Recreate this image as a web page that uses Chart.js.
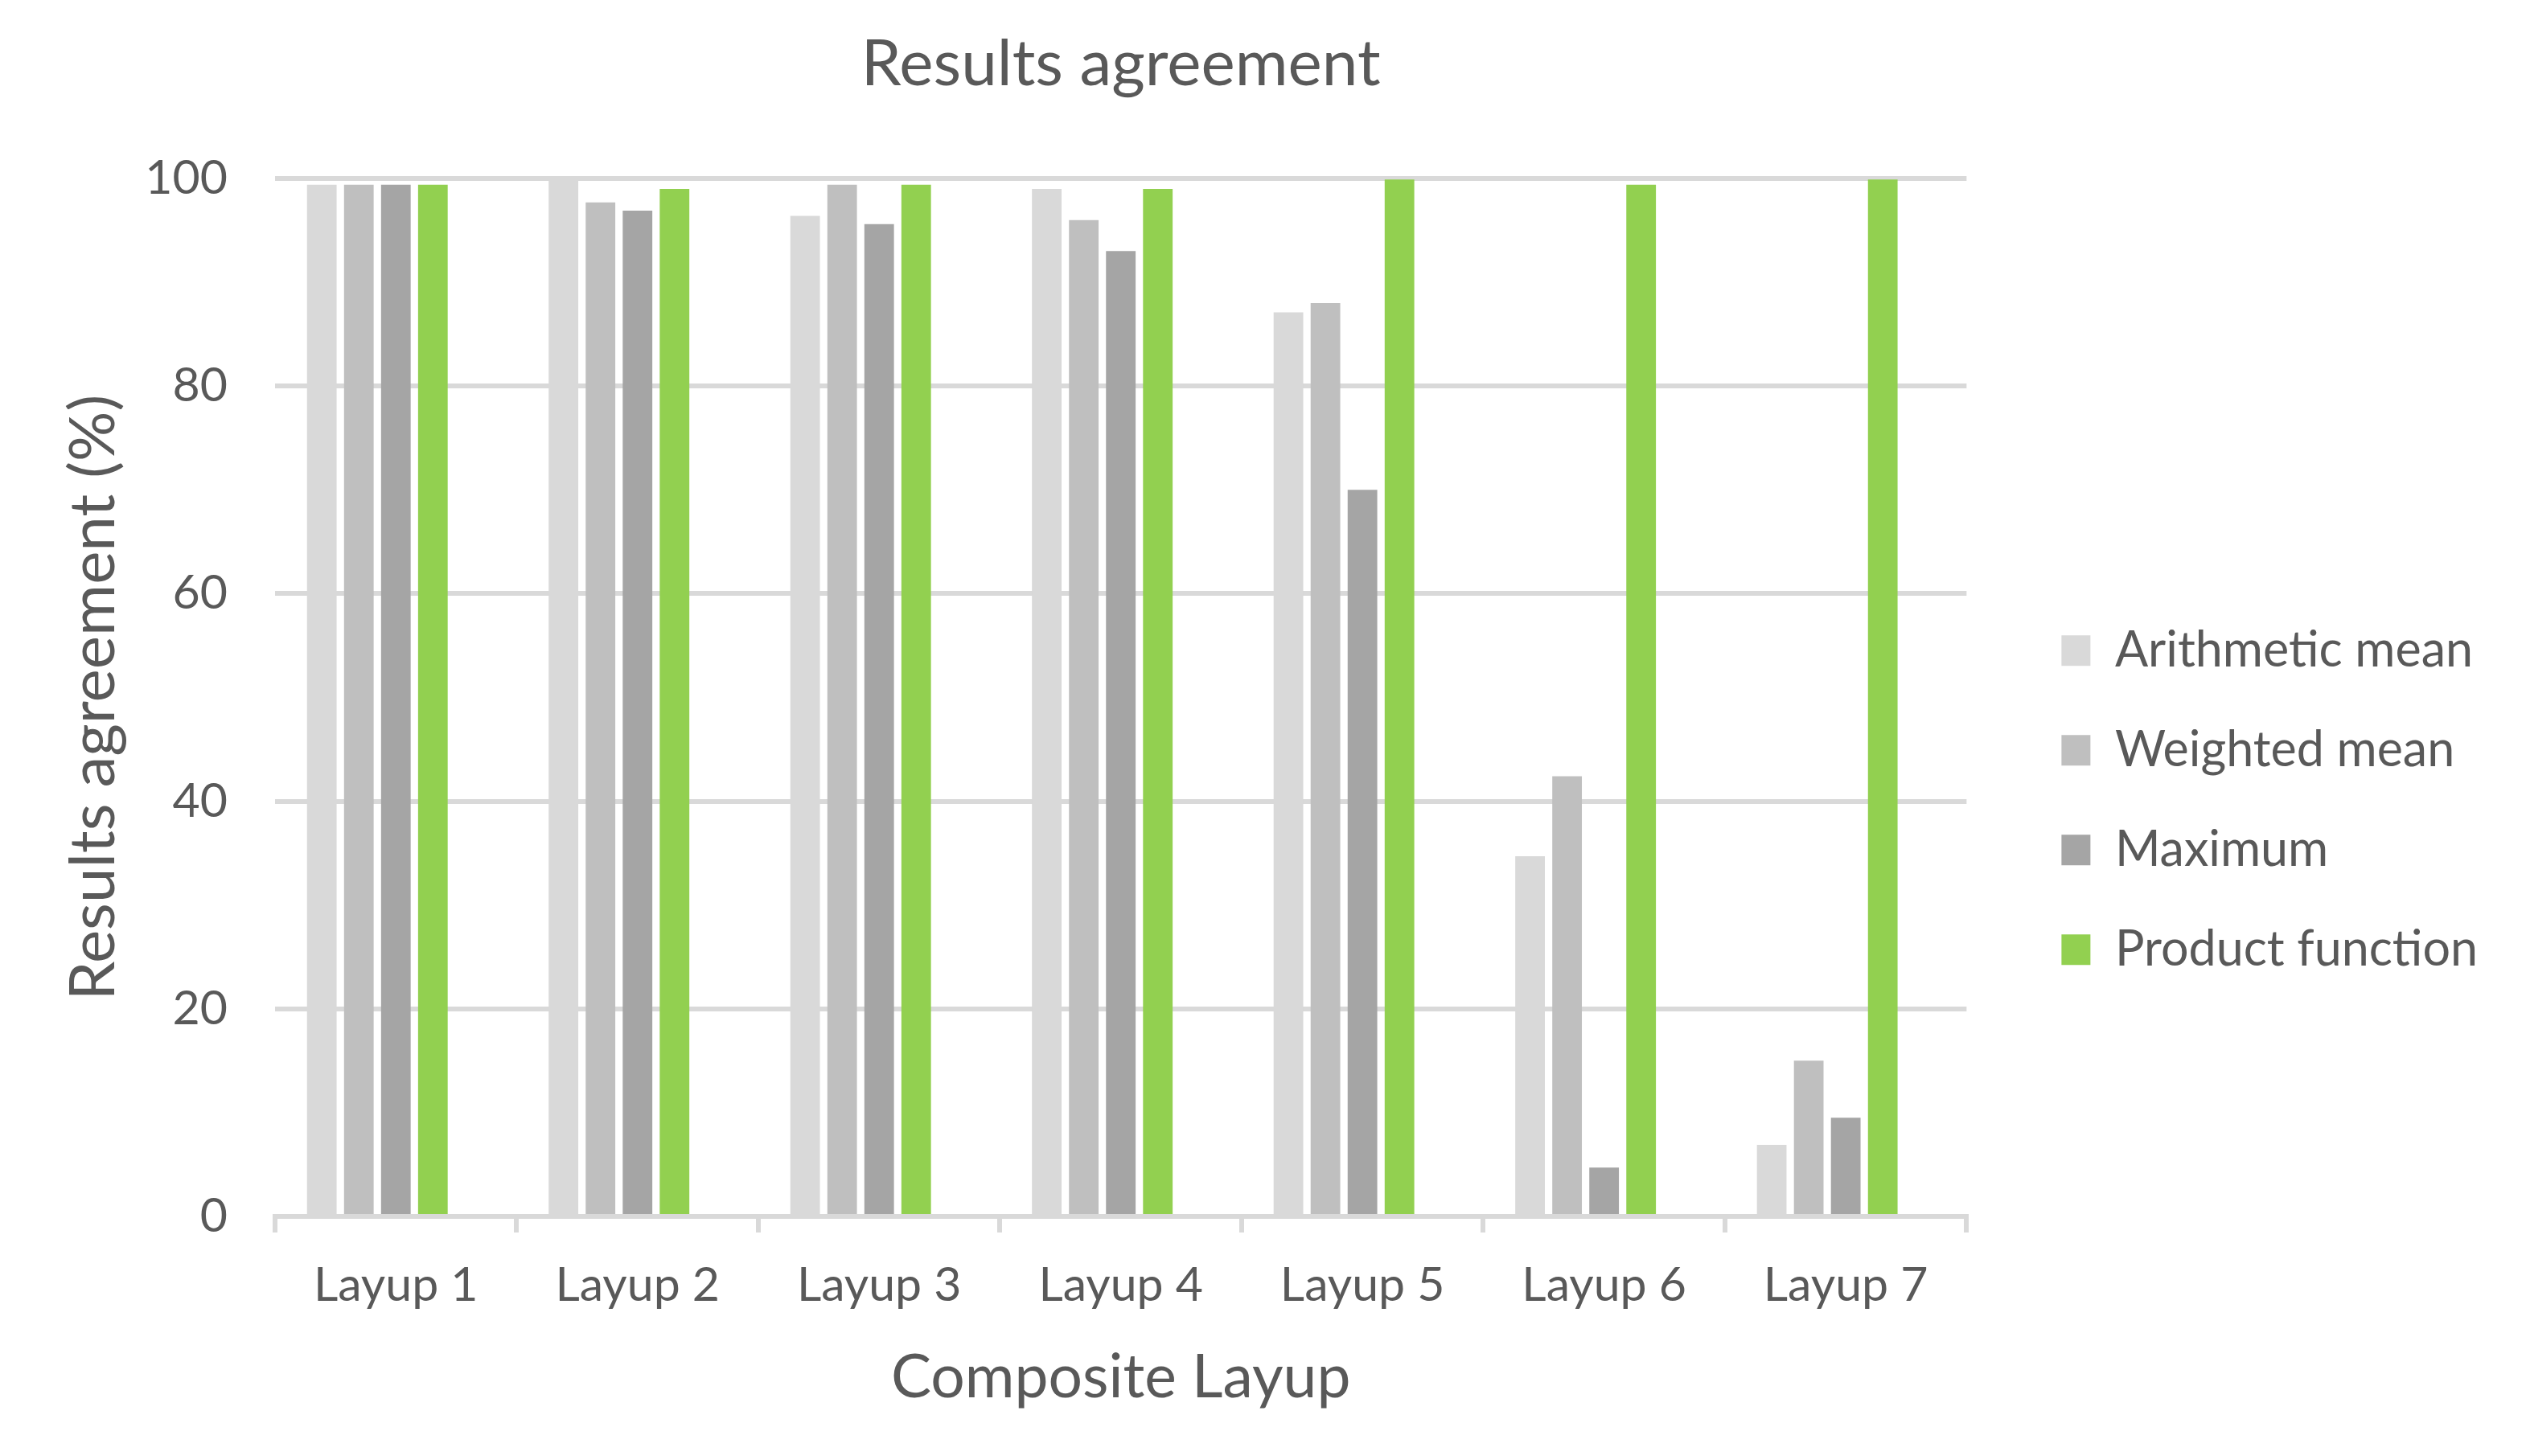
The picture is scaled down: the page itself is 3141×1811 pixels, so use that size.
<!DOCTYPE html>
<html>
<head>
<meta charset="utf-8">
<script src="https://cdn.jsdelivr.net/npm/chart.js@4"></script>
<style>
  html, body { margin: 0; padding: 0; background: #fff; }
</style>
</head>
<body>
<canvas id="chart" width="3141" height="1811"></canvas>
<script>
const layups = ['Layup 1', 'Layup 2', 'Layup 3', 'Layup 4', 'Layup 5', 'Layup 6', 'Layup 7'];
const arithmeticMean = [99.4, 100, 96.4, 99.0, 87.1, 34.7, 6.9];
const weightedMean = [99.4, 97.7, 99.4, 96.0, 88.0, 42.4, 15.0];
const maximum = [99.4, 96.9, 95.6, 93.0, 70.0, 4.7, 9.5];
const productFunction = [99.4, 99.0, 99.4, 99.0, 99.9, 99.4, 99.9];
// Excel leaves a fifth, empty slot in each group
const emptySlot = [null, null, null, null, null, null, null];
const yTicks = [0, 20, 40, 60, 80, 100];

const textColor = '#595959';
const gridColor = '#d9d9d9';

Chart.defaults.font.family = 'Lato';
Chart.defaults.color = textColor;

// push the legend a bit further away from the plot area
const legendShift = {
    id: 'legendShift',
    afterLayout(chart, args, opts) {
        chart.legend.left += opts.x;
        chart.legend.right += opts.x;
    }
};

new Chart(document.getElementById('chart'), {
    type: 'bar',
    plugins: [legendShift],
    data: {
        labels: layups,
        datasets: [
            {label: 'Arithmetic mean', data: arithmeticMean, backgroundColor: '#d9d9d9'},
            {label: 'Weighted mean', data: weightedMean, backgroundColor: '#bfbfbf'},
            {label: 'Maximum', data: maximum, backgroundColor: '#a5a5a5'},
            {label: 'Product function', data: productFunction, backgroundColor: '#92d050'},
            {label: '', data: emptySlot}
        ]
    },
    options: {
        responsive: false,
        devicePixelRatio: 1,
        animation: false,
        categoryPercentage: 0.766,
        barPercentage: 0.8,
        layout: {padding: {left: 0, right: 105, top: 0, bottom: 0}},
        plugins: {
            tooltip: {enabled: false},
            legendShift: {x: 55},
            title: {
                display: true,
                text: 'Results agreement',
                fullSize: false,
                color: textColor,
                font: {size: 80, weight: 'normal'},
                padding: {top: 32, bottom: 94}
            },
            legend: {
                position: 'right',
                title: {display: true, text: ' ', padding: {top: 165, bottom: 0}},
                labels: {
                    boxWidth: 36,
                    boxHeight: 38,
                    padding: 63,
                    color: textColor,
                    font: {size: 61},
                    filter: item => item.text !== ''
                }
            }
        },
        scales: {
            x: {
                grid: {drawOnChartArea: false, color: gridColor, lineWidth: 6, tickLength: 20},
                border: {color: gridColor, width: 6},
                ticks: {font: {size: 59}, padding: 31},
                title: {display: true, text: 'Composite Layup', font: {size: 75}, padding: {top: 0, bottom: 52}},
                afterFit: s => { s.height = 298; }
            },
            y: {
                min: yTicks[0],
                max: yTicks[yTicks.length - 1],
                grid: {color: gridColor, lineWidth: 6, drawTicks: false},
                border: {display: false},
                ticks: {stepSize: yTicks[1] - yTicks[0], font: {size: 59}, padding: 59},
                title: {display: true, text: 'Results agreement (%)', font: {size: 78}, padding: {top: 70, bottom: 0}},
                afterFit: s => { s.width = 342; }
            }
        }
    }
});
</script>
</body>
</html>
